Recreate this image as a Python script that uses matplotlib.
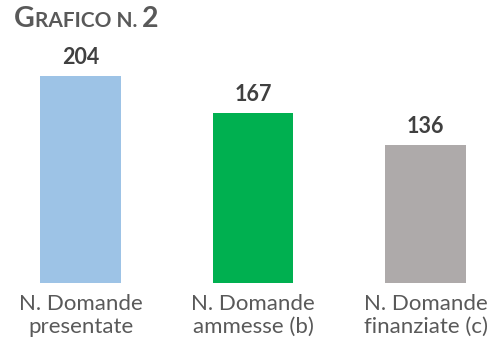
import matplotlib
matplotlib.use("Agg")
import matplotlib.pyplot as plt

categories = ["N. Domande\npresentate", "N. Domande\nammesse (b)", "N. Domande\nfinanziate (c)"]
values = [204, 167, 136]
colors = ["#9DC3E6", "#00B050", "#AEAAAA"]

FONT = ["Lato", "DejaVu Sans"]
W, H = 504, 350
fig = plt.figure(figsize=(W / 100, H / 100), dpi=100)
base = 283  # pixel row of baseline from top
ax = fig.add_axes([0, (H - base) / H, 1, base / H])
x = list(range(len(values)))
ax.bar(x, values, width=0.464, color=colors)
ax.set_xlim(-80.5 / 172.5, (W - 80.5) / 172.5)
ax.set_ylim(0, base / 1.015)
for s in ax.spines.values():
    s.set_visible(False)
ax.set_yticks([])
ax.set_xticks(x)
ax.set_xticklabels(categories, fontsize=16, color="#595959", family=FONT, linespacing=1.2)
ax.tick_params(axis="x", length=0, pad=8)
for xi, v in zip(x, values):
    ax.annotate(str(v), (xi, v), xytext=(0, 8), textcoords="offset pixels",
                ha="center", va="bottom", fontsize=15.5, fontweight="bold",
                color="#404040", family=FONT)

# Title in small caps
parts = [("G", 20.5), ("RAFICO N. ", 15), ("2", 20.5)]
fig.canvas.draw()
r = fig.canvas.get_renderer()
xpos = 14
for txt, sz in parts:
    t = fig.text(xpos / W, 1 - 27 / H, txt, fontsize=sz, fontweight="bold",
                 color="#595959", family=FONT, va="baseline", ha="left")
    bb = t.get_window_extent(renderer=r)
    xpos += bb.width

fig.savefig("out.png", dpi=100)
